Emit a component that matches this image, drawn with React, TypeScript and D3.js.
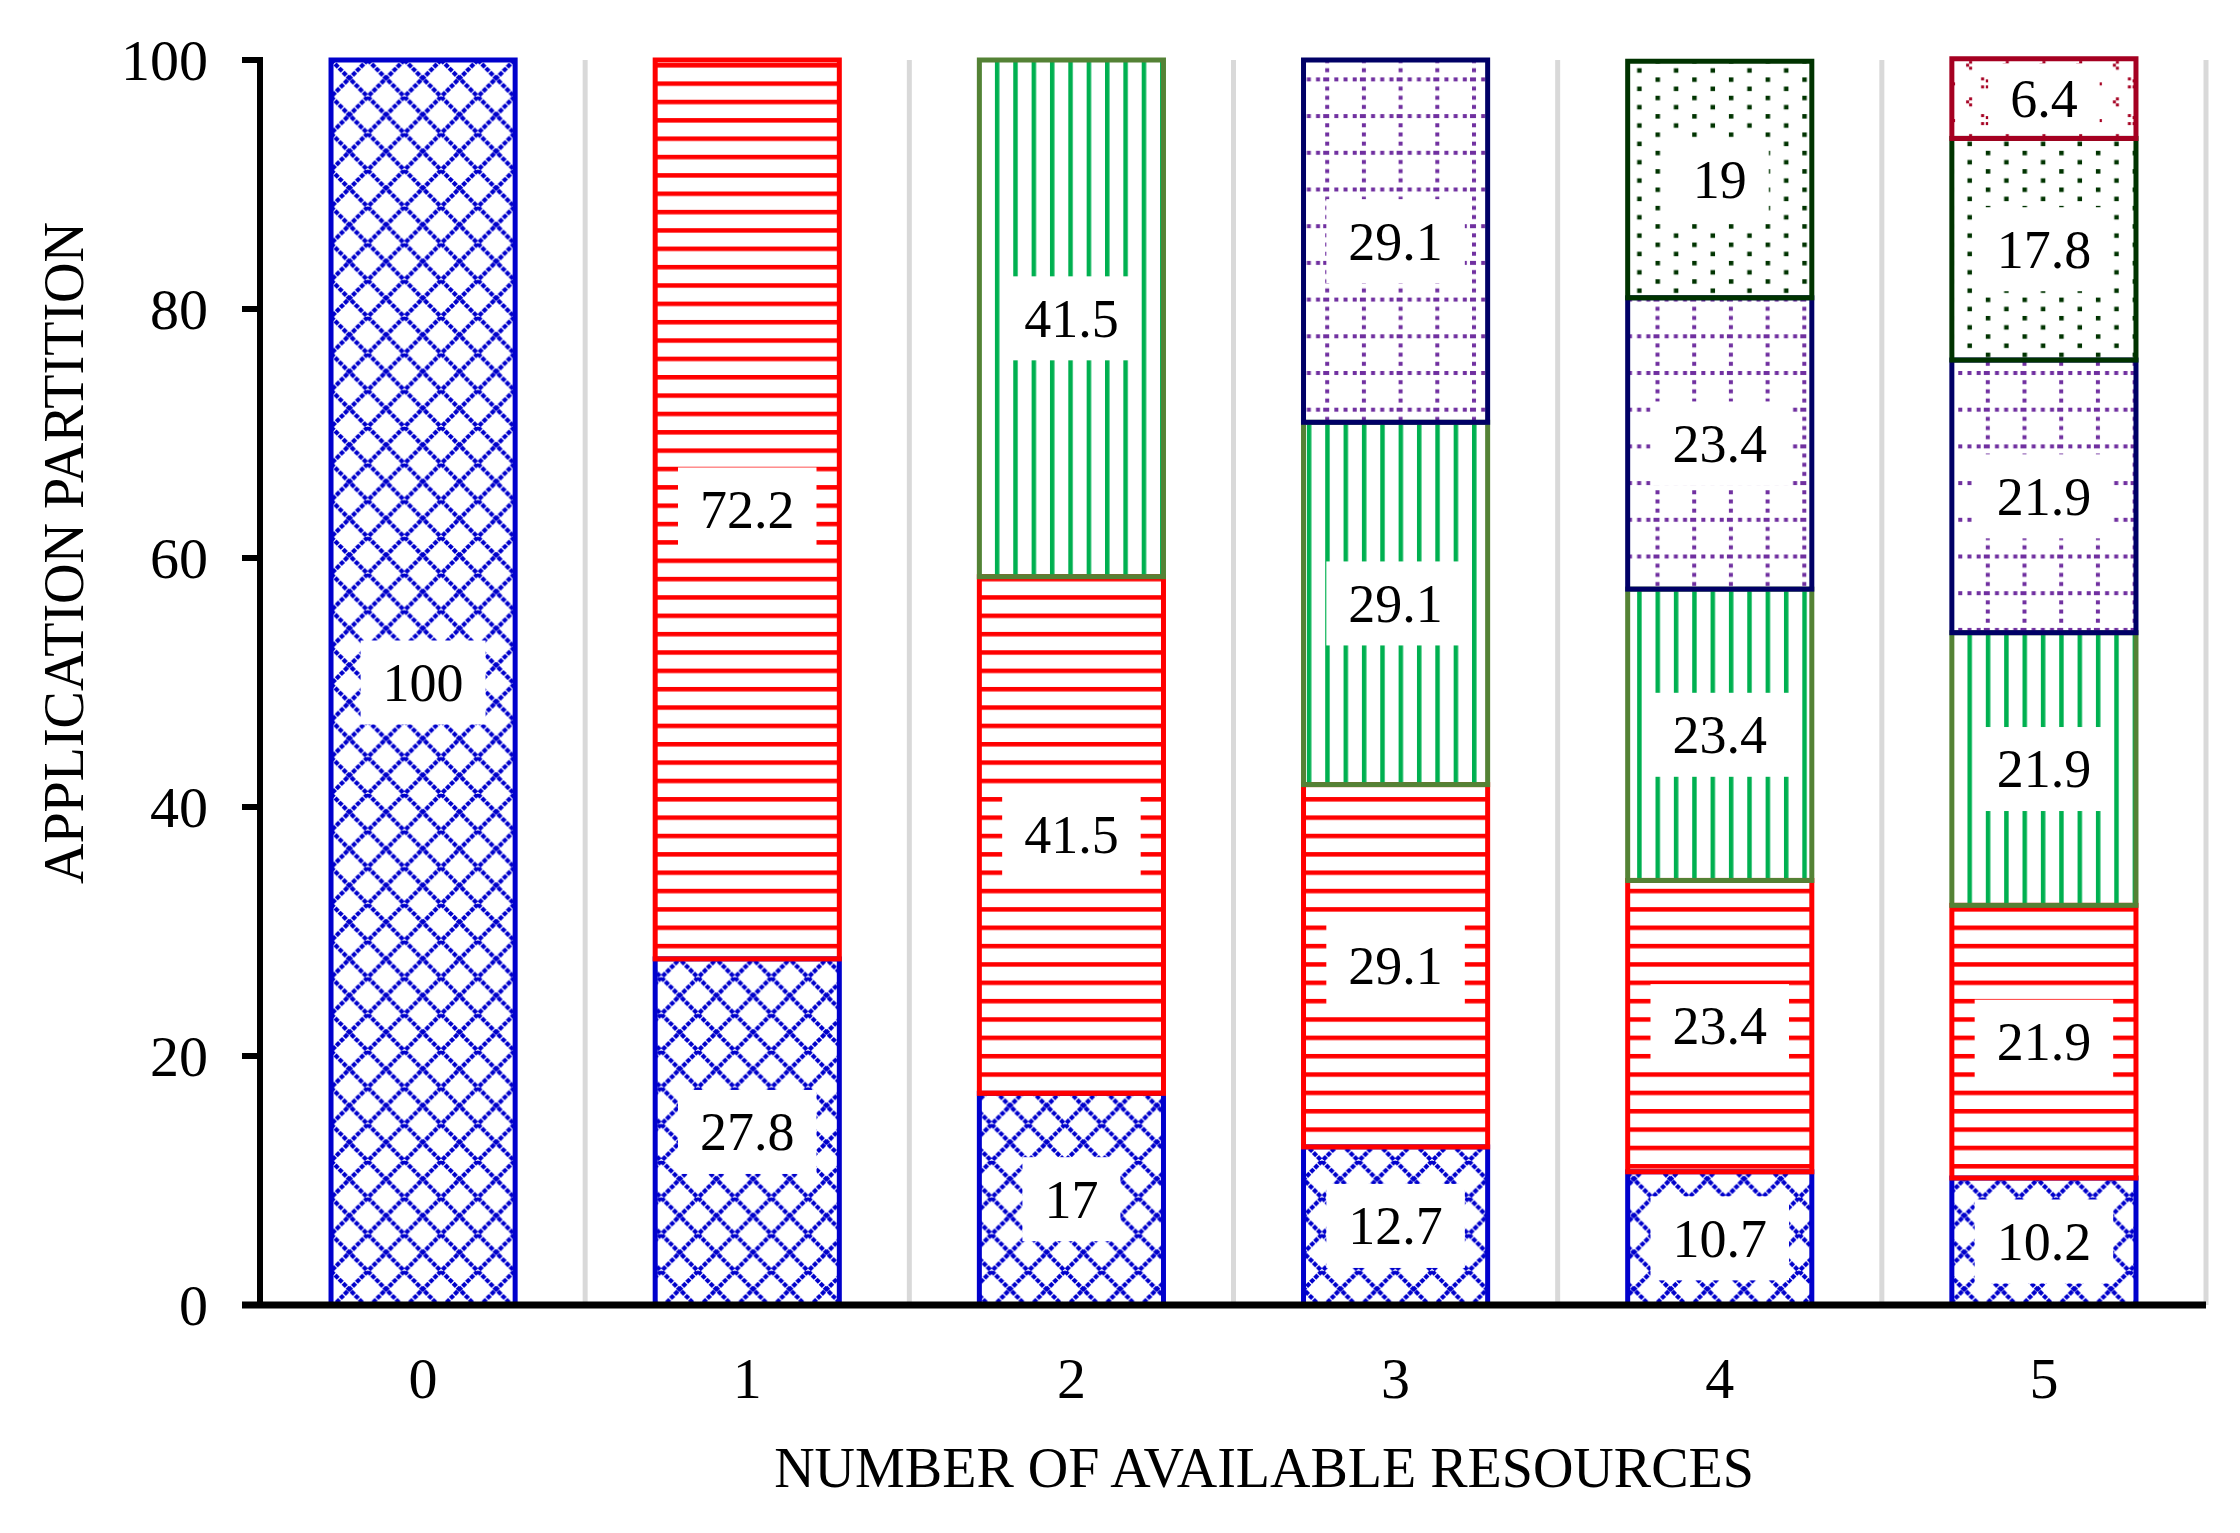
import * as d3 from 'd3';
import React, { FC } from 'react';

// resources available (x categories)
const categories = ['0', '1', '2', '3', '4', '5'];

// partition shares per stack level, bottom to top
const level1 = [100, 27.8, 17, 12.7, 10.7, 10.2];
const level2 = [0, 72.2, 41.5, 29.1, 23.4, 21.9];
const level3 = [0, 0, 41.5, 29.1, 23.4, 21.9];
const level4 = [0, 0, 0, 29.1, 23.4, 21.9];
const level5 = [0, 0, 0, 0, 19, 17.8];
const level6 = [0, 0, 0, 0, 0, 6.4];

const yTicks = [0, 20, 40, 60, 80, 100];

const levelKeys = ['l1', 'l2', 'l3', 'l4', 'l5', 'l6'];
const levels = [level1, level2, level3, level4, level5, level6];

const strokes = ['#0000CC', '#FF0000', '#548235', '#000066', '#003300', '#A50021'];

const W = 2240;
const H = 1533;
const FONT = '"Liberation Serif", "Times New Roman", serif';
const T = 36.7; // pattern tile

const rows = categories.map((c, i) => {
  const r: Record<string, number | string> = { cat: c };
  levelKeys.forEach((k, j) => {
    r[k] = levels[j][i];
  });
  return r;
});

const labelWidth = (s: string, fs: number) =>
  s.split('').reduce((a, ch) => a + (ch === '.' ? 0.25 : 0.5), 0) * fs;

const Patterns: FC = () => {
  const purpleDots: JSX.Element[] = [];
  for (let i = 0; i < 4; i++) {
    purpleDots.push(<rect key={'h' + i} x={i * (T / 4) - 2} y={-2} width={4} height={4} fill="#7030A0" />);
    if (i > 0) purpleDots.push(<rect key={'v' + i} x={-2} y={i * (T / 4) - 2} width={4} height={4} fill="#7030A0" />);
  }
  return (
    <defs>
      <pattern id="p1" patternUnits="userSpaceOnUse" width={T} height={T} x={331} y={60}>
        <g stroke="#0000CC" strokeWidth={4.2} strokeDasharray="4.5 1.2" fill="none">
          <line x1={0} y1={0} x2={T} y2={T} />
          <line x1={T} y1={0} x2={0} y2={T} />
        </g>
      </pattern>
      <pattern id="p2" patternUnits="userSpaceOnUse" width={T} height={T / 2} x={0} y={8}>
        <rect x={0} y={0} width={T} height={4.5} fill="#FF0000" />
      </pattern>
      <pattern id="p3" patternUnits="userSpaceOnUse" width={T / 2} height={T} x={4} y={0}>
        <rect x={0} y={0} width={4.5} height={T} fill="#00B050" />
      </pattern>
      <pattern id="p4" patternUnits="userSpaceOnUse" width={T} height={T} x={4} y={4}>
        <g transform="translate(2,2)">
          {purpleDots}
        </g>
        <rect x={T - 2} y={0} width={2} height={4} fill="#7030A0" />
      </pattern>
      <pattern id="p5" patternUnits="userSpaceOnUse" width={T} height={T / 2} x={4} y={4}>
        <rect x={0} y={0} width={4.5} height={4.5} fill="#003300" />
        <rect x={T / 2} y={T / 4} width={4.5} height={4.5} fill="#003300" />
      </pattern>
      <pattern id="p6" patternUnits="userSpaceOnUse" width={T} height={T} x={4} y={0}>
        <g fill="#A50021">
          <rect x={0} y={6} width={3} height={3} />
          <rect x={3} y={9} width={3} height={3} />
          <rect x={0} y={12} width={3} height={3} />
          <rect x={20} y={24} width={3} height={3} />
          <rect x={17} y={27} width={3} height={3} />
          <rect x={20} y={30} width={3} height={3} />
          <rect x={32} y={4} width={3} height={3} />
          <rect x={32} y={12} width={3} height={3} />
        </g>
      </pattern>
    </defs>
  );
};

const App: FC = () => {
  const x = d3
    .scaleBand<string>()
    .domain(categories)
    .range([261, 2206])
    .paddingInner(0.432)
    .paddingOuter(0.216);

  const y = d3.scaleLinear().domain([0, 100]).range([1305, 60]);

  const stacked = d3.stack<Record<string, number | string>>().keys(levelKeys)(rows as any);

  const step = x.step();
  const gridXs = categories.map((c) => (x(c) as number) + x.bandwidth() / 2 + step / 2);

  const fsTick = 58;
  const fsLabel = 54;

  return (
    <svg
      width={W}
      height={H}
      style={{ position: 'absolute', left: 0, top: 0, background: '#fff' }}
      fontFamily={FONT}
    >
      <Patterns />
      <rect width={W} height={H} fill="#fff" />

      {/* vertical gridlines between categories */}
      {gridXs.map((gx, i) => (
        <line key={i} x1={gx} x2={gx} y1={y(100)} y2={y(0)} stroke="#D9D9D9" strokeWidth={5} />
      ))}

      {/* stacked bars */}
      {stacked.map((s, si) => (
        <g key={s.key}>
          {s.map((d, ci) => {
            if (d[1] - d[0] <= 0) return null;
            return (
              <rect
                key={ci}
                x={x(categories[ci])}
                width={x.bandwidth()}
                y={y(d[1])}
                height={y(d[0]) - y(d[1])}
                fill={`url(#p${si + 1})`}
                stroke={strokes[si]}
                strokeWidth={5}
              />
            );
          })}
        </g>
      ))}

      {/* value labels */}
      {stacked.map((s, si) => (
        <g key={'lab' + s.key}>
          {s.map((d, ci) => {
            const v = d[1] - d[0];
            if (v <= 0) return null;
            const txt = String(levels[si][ci]);
            const cx = (x(categories[ci]) as number) + x.bandwidth() / 2;
            const cy = (y(d[0]) + y(d[1])) / 2;
            const bw = labelWidth(txt, fsLabel) + 44;
            const bh = v < 8 ? 70 : 84;
            return (
              <g key={ci}>
                <rect x={cx - bw / 2} y={cy - bh / 2} width={bw} height={bh} fill="#fff" />
                <text x={cx} y={cy} dy="0.34em" textAnchor="middle" fontSize={fsLabel} fill="#000">
                  {txt}
                </text>
              </g>
            );
          })}
        </g>
      ))}

      {/* y axis */}
      <line x1={260} x2={260} y1={y(100) - 3} y2={y(0)} stroke="#000" strokeWidth={6} />
      {yTicks.map((t) => (
        <g key={t}>
          <line x1={242} x2={260} y1={y(t)} y2={y(t)} stroke="#000" strokeWidth={6} />
          <text x={208} y={y(t)} dy="0.34em" textAnchor="end" fontSize={fsTick}>
            {t}
          </text>
        </g>
      ))}

      {/* x axis */}
      <line x1={242} x2={2206} y1={y(0)} y2={y(0)} stroke="#000" strokeWidth={7} />
      {categories.map((c) => (
        <text
          key={c}
          x={(x(c) as number) + x.bandwidth() / 2}
          y={1398}
          textAnchor="middle"
          fontSize={fsTick}
        >
          {c}
        </text>
      ))}

      <text x={1264} y={1487} textAnchor="middle" fontSize={56}>
        NUMBER OF AVAILABLE RESOURCES
      </text>
      <text transform="translate(83,553) rotate(-90)" textAnchor="middle" fontSize={56}>
        APPLICATION PARTITION
      </text>
    </svg>
  );
};

export default App;
